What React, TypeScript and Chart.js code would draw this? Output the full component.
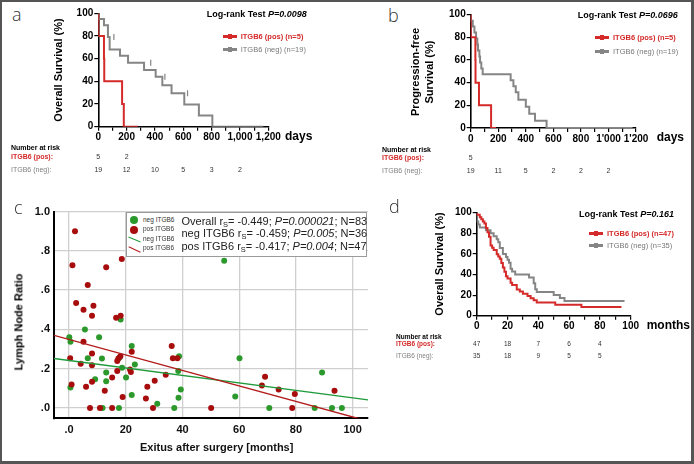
import React, { useEffect, useRef } from 'react';
import { Chart, registerables } from 'chart.js';
Chart.register(...registerables);

const FONT = '"Liberation Sans", Arial, Helvetica, sans-serif';
const LIGHT = '"Open Sans", "DejaVu Sans", sans-serif';
const RED_KM = '#d42a2a';
const GRAY_KM = '#858585';
const RED_PT = '#a80d0d';
const GREEN_PT = '#2b992b';
const RED_FIT = '#b21c1c';
const GREEN_FIT = '#1f9a3a';

// ---------- Panel a: overall survival (days) ----------
const aPosT = [0, 40, 42, 168, 180, 278];
const aPosS = [100, 80, 60, 40, 20, 0];
const aNegT = [0, 40, 68, 80, 153, 210, 323, 405, 452, 517, 607, 710, 805, 1165];
const aNegS = [100, 95, 89.5, 79, 68, 62.5, 56.5, 50, 44, 36.5, 29.5, 19.5, 9.8, 0];
const aNegCensT = [110, 370, 470, 630];
const aNegCensS = [79, 56.5, 44, 29.5];
const aRiskT = [0, 200, 400, 600, 800, 1000];
const aRiskPos = [5, 2];
const aRiskNeg = [19, 12, 10, 5, 3, 2];

// ---------- Panel b: progression-free survival (days) ----------
const bPosT = [0, 34, 35, 60, 148, 184];
const bPosS = [100, 80, 60, 40, 20, 0];
const bNegT = [0, 15, 27, 39, 48, 53, 63, 68, 77, 87, 290, 310, 327, 346, 400, 425, 467, 551, 1175];
const bNegS = [100, 94.7, 89.5, 84.2, 78.9, 73.7, 68.4, 63.2, 57.9, 52.6, 47.4, 42.1, 36.8, 31.6, 25, 18.8, 12.5, 6.3, 0];
const bRiskT = [0, 200, 400, 600, 800, 1000];
const bRiskPos = [5];
const bRiskNeg = [19, 11, 5, 2, 2, 2];

// ---------- Panel c: lymph node ratio vs exitus ----------
const cNegX = [54.7, 18.2, 5.6, 0.1, 10.6, 0.5, 22.1, 17.8, 11.6, 6.6, 38.8, 23.2, 18.7, 13.1, 38.5, 20.1, 13.1, 9.2, 39.4, 22.1, 38.6, 58.6, 31.1, 60.1, 0.5, 17.6, 37.1, 70.6, 86.6, 92.7, 96.2, 89.2, 11.8];
const cNegY = [0.75, 0.45, 0.40, 0.36, 0.36, 0.337, 0.316, 0.257, 0.252, 0.254, 0.264, 0.222, 0.205, 0.181, 0.188, 0.156, 0.137, 0.147, 0.095, 0.066, 0.052, 0.059, 0.022, 0.254, 0.105, 0, 0, 0, 0, 0, 0, 0.181, 0];
const cPosX = [2.1, 1.2, 13.1, 18.6, 6.6, 2.5, 5.1, 8.6, 8.1, 16.6, 18.2, 5.1, 36.2, 22.1, 8.1, 18.1, 17.4, 17.0, 36.6, 38.2, 21.5, 21.8, 17.0, 15.2, 34.1, 69.1, 30.2, 27.6, 12.6, 18.9, 27.1, 68.0, 73.9, 0.4, 4.1, 8.1, 6.0, 8.1, 0.9, 7.4, 10.9, 15.2, 29.6, 50.1, 78.7, 79.6, 93.6];
const cPosY = [0.90, 0.726, 0.717, 0.758, 0.626, 0.535, 0.50, 0.52, 0.47, 0.46, 0.47, 0.337, 0.316, 0.286, 0.278, 0.264, 0.252, 0.24, 0.254, 0.254, 0.196, 0.183, 0.188, 0.156, 0.169, 0.159, 0.139, 0.108, 0.088, 0.056, 0.049, 0.115, 0.095, 0.254, 0.225, 0.218, 0.108, 0.134, 0.12, 0, 0, 0, 0, 0, 0, 0.071, 0.088];
const cFitNeg = [0.242, -0.0019]; // intercept, slope
const cFitPos = [0.349, -0.00394];
const cXRange = [-5.3, 105.4];
const cYRange = [-0.052, 1.0];

// ---------- Panel d: overall survival (months) ----------
const dPosT = [0, 2, 3, 4, 5, 6, 7, 8, 9, 10, 11, 13, 14, 15, 16, 17, 18, 19, 20, 22, 23, 26, 28, 30, 33, 35, 37, 39, 51, 68, 75, 94];
const dPosS = [100, 97.9, 95.7, 93.6, 91.5, 89.4, 85.1, 80.9, 76.6, 68.1, 66, 63.8, 59.6, 57.4, 55.3, 51.1, 46.8, 42.6, 38.3, 36.2, 31.9, 29.8, 25.5, 23.4, 21.3, 19.1, 17, 14.9, 12.8, 10.6, 8.5, 8.5];
const dNegT = [0, 1, 2, 6, 9, 11, 13, 14, 15, 17, 19, 20, 21, 22, 23, 25, 34, 37, 38, 39, 50, 54, 57, 60, 96];
const dNegS = [100, 91.4, 88.6, 85.7, 82.9, 80, 77.1, 74.3, 71.4, 65.7, 60, 57.1, 54.3, 51.4, 45.7, 42.9, 40, 37.1, 31.4, 25.7, 22.9, 20, 17.1, 14.3, 14.3];
const dRiskT = [0, 20, 40, 60, 80];
const dRiskPos = [47, 18, 7, 6, 4];
const dRiskNeg = [35, 18, 9, 5, 5];

type Rect = { left: number; top: number; width: number; height: number };
type Area = { left: number; top: number; right: number; bottom: number };

function pad(r: Rect, a: Area, yW: number, xH: number) {
  return {
    left: a.left - r.left - yW,
    top: a.top - r.top,
    right: r.left + r.width - a.right,
    bottom: r.top + r.height - a.bottom - xH,
  };
}

function ChartCanvas({ rect, build }: { rect: Rect; build: () => any }) {
  const ref = useRef<HTMLCanvasElement>(null);
  useEffect(() => {
    const c = new Chart(ref.current as HTMLCanvasElement, build());
    return () => c.destroy();
  }, []);
  return (
    <canvas
      ref={ref}
      width={rect.width}
      height={rect.height}
      style={{ position: 'absolute', left: rect.left, top: rect.top, width: rect.width, height: rect.height }}
    />
  );
}

function kmBuild(
  rect: Rect,
  area: Area,
  xMax: number,
  xStep: number,
  xLabelStep: number,
  fmt: (v: number) => string,
  curves: { t: number[]; s: number[]; color: string }[],
  censors: { t: number[]; s: number[]; color: string }[]
) {
  const yW = 30;
  const xH = 20;
  const tickFont = { family: FONT, size: 10, weight: 'bold' as const };
  return () => ({
    type: 'scatter',
    data: {
      datasets: [
        ...curves.map((c) => ({
          data: c.t.map((t, i) => ({ x: t, y: c.s[i] })),
          showLine: true,
          stepped: 'after',
          borderColor: c.color,
          backgroundColor: c.color,
          borderWidth: 2,
          pointRadius: 0,
          fill: false,
        })),
        ...censors.map((c) => ({
          data: c.t.map((t, i) => ({ x: t, y: c.s[i] })),
          showLine: false,
          pointStyle: 'line',
          rotation: 90,
          pointRadius: 3,
          borderColor: c.color,
          backgroundColor: c.color,
          borderWidth: 1.2,
        })),
      ],
    },
    options: {
      responsive: false,
      animation: false,
      events: [],
      layout: { padding: pad(rect, area, yW, xH) },
      plugins: { legend: { display: false }, tooltip: { enabled: false } },
      scales: {
        x: {
          type: 'linear',
          min: 0,
          max: xMax,
          afterFit: (s: any) => {
            s.height = xH;
          },
          ticks: {
            stepSize: xStep,
            autoSkip: false,
            maxRotation: 0,
            padding: 1,
            color: '#000',
            font: tickFont,
            callback: (v: any) => (Math.round(v) % xLabelStep === 0 ? fmt(Math.round(v)) : ''),
          },
          grid: { drawOnChartArea: false, drawTicks: true, tickLength: 4, color: '#000', lineWidth: 1.2 },
          border: { display: true, color: '#000', width: 1.6 },
        },
        y: {
          type: 'linear',
          min: 0,
          max: 100,
          afterFit: (s: any) => {
            s.width = yW;
          },
          ticks: { stepSize: 20, padding: 1, color: '#000', font: tickFont },
          grid: { drawOnChartArea: false, drawTicks: true, tickLength: 4, color: '#000', lineWidth: 1.2 },
          border: { display: true, color: '#000', width: 1.6 },
        },
      },
    },
  });
}

function scatterBuild(rect: Rect, area: Area) {
  const yW = 30;
  const xH = 22;
  const tickFont = { family: FONT, size: 11, weight: 'bold' as const };
  const fitLine = (f: number[]) => [
    { x: cXRange[0], y: f[0] + f[1] * cXRange[0] },
    { x: cXRange[1], y: f[0] + f[1] * cXRange[1] },
  ];
  return () => ({
    type: 'scatter',
    data: {
      datasets: [
        { data: fitLine(cFitPos), showLine: true, borderColor: RED_FIT, borderWidth: 1.4, pointRadius: 0 },
        { data: fitLine(cFitNeg), showLine: true, borderColor: GREEN_FIT, borderWidth: 1.4, pointRadius: 0 },
        {
          data: cPosX.map((x, i) => ({ x, y: cPosY[i] })),
          pointRadius: 3,
          backgroundColor: RED_PT,
          borderColor: RED_PT,
          borderWidth: 0,
        },
        {
          data: cNegX.map((x, i) => ({ x, y: cNegY[i] })),
          pointRadius: 3,
          backgroundColor: GREEN_PT,
          borderColor: GREEN_PT,
          borderWidth: 0,
        },
      ],
    },
    options: {
      responsive: false,
      animation: false,
      events: [],
      layout: { padding: pad(rect, area, yW, xH) },
      plugins: { legend: { display: false }, tooltip: { enabled: false } },
      scales: {
        x: {
          type: 'linear',
          min: cXRange[0],
          max: cXRange[1],
          afterFit: (s: any) => {
            s.height = xH;
          },
          ticks: {
            stepSize: 20,
            includeBounds: false,
            autoSkip: false,
            maxRotation: 0,
            padding: 5,
            color: '#111',
            font: tickFont,
            callback: (v: any) => (Math.abs(v) < 1e-9 ? '.0' : String(Math.round(v))),
          },
          grid: { drawTicks: false, color: '#cfcfcf', lineWidth: 1.3 },
          border: { display: true, color: '#000', width: 2 },
        },
        y: {
          type: 'linear',
          min: cYRange[0],
          max: cYRange[1],
          afterFit: (s: any) => {
            s.width = yW;
          },
          ticks: {
            stepSize: 0.2,
            includeBounds: false,
            padding: 4,
            color: '#111',
            font: tickFont,
            callback: (v: any) => (Math.abs(v - 1) < 1e-9 ? '1.0' : Number(v).toFixed(1).replace(/^0/, '')),
          },
          grid: { drawTicks: false, color: '#cfcfcf', lineWidth: 1.3 },
          border: { display: true, color: '#000', width: 2 },
        },
      },
    },
  });
}

type TP = {
  x: number;
  y: number;
  size: number;
  color?: string;
  bold?: boolean;
  align?: 'left' | 'center';
  family?: string;
  weight?: number | string;
  children: React.ReactNode;
};
const Txt = ({ x, y, size, color = '#000', bold = false, align = 'left', family = FONT, weight, children }: TP) => (
  <div
    style={{
      position: 'absolute',
      left: x,
      top: y - size * 0.6,
      fontSize: size,
      lineHeight: `${size * 1.2}px`,
      color,
      fontWeight: (weight ?? (bold ? 'bold' : 'normal')) as any,
      fontFamily: family,
      whiteSpace: 'nowrap',
      transform: align === 'center' ? 'translateX(-50%)' : undefined,
    }}
  >
    {children}
  </div>
);

const RotTxt = ({ x, y, size, children, lh }: { x: number; y: number; size: number; lh?: number; children: React.ReactNode }) => (
  <div
    style={{
      position: 'absolute',
      left: x,
      top: y,
      transform: 'translate(-50%,-50%) rotate(-90deg)',
      fontSize: size,
      lineHeight: `${lh ?? size * 1.2}px`,
      fontWeight: 'bold',
      fontFamily: FONT,
      whiteSpace: 'nowrap',
      textAlign: 'center',
      color: '#000',
    }}
  >
    {children}
  </div>
);

const KmKey = ({ x, y, color }: { x: number; y: number; color: string }) => (
  <>
    <div style={{ position: 'absolute', left: x, top: y - 1.5, width: 14, height: 3, background: color }} />
    <div style={{ position: 'absolute', left: x + 5, top: y - 2.5, width: 4, height: 5, background: color }} />
  </>
);

function KmLegend({ x, y, dy, pos, neg }: { x: number; y: number; dy: number; pos: string; neg: string }) {
  return (
    <>
      <KmKey x={x} y={y} color={RED_KM} />
      <Txt x={x + 18} y={y} size={7.5} color={RED_KM} bold>
        {pos}
      </Txt>
      <KmKey x={x} y={y + dy} color={GRAY_KM} />
      <Txt x={x + 18} y={y + dy} size={7.5} color="#777">
        {neg}
      </Txt>
    </>
  );
}

function RiskTable(props: {
  x: number;
  yHead: number;
  yPos: number;
  yNeg: number;
  size: number;
  area: Area;
  xMax: number;
  times: number[];
  pos: number[];
  neg: number[];
}) {
  const { x, yHead, yPos, yNeg, size, area, xMax, times, pos, neg } = props;
  const px = (t: number) => area.left + (t / xMax) * (area.right - area.left);
  return (
    <>
      <Txt x={x} y={yHead} size={size} bold>
        Number at risk
      </Txt>
      <Txt x={x} y={yPos} size={size} bold color={RED_KM}>
        ITGB6 (pos):
      </Txt>
      <Txt x={x} y={yNeg} size={size} color="#808080">
        ITGB6 (neg):
      </Txt>
      {pos.map((n, i) => (
        <Txt key={'p' + i} x={px(times[i])} y={yPos} size={size} align="center" color="#333">
          {n}
        </Txt>
      ))}
      {neg.map((n, i) => (
        <Txt key={'n' + i} x={px(times[i])} y={yNeg} size={size} align="center" color="#333">
          {n}
        </Txt>
      ))}
    </>
  );
}

const PanelLetter = ({ x, y, ch }: { x: number; y: number; ch: string }) => (
  <Txt x={x} y={y} size={18} family={LIGHT} weight={300} color="#333">
    {ch}
  </Txt>
);

const rectA: Rect = { left: 40, top: 0, width: 250, height: 150 };
const areaA: Area = { left: 98.3, top: 13.3, right: 268.3, bottom: 126.7 };
const rectB: Rect = { left: 420, top: 0, width: 245, height: 152 };
const areaB: Area = { left: 470.7, top: 14.7, right: 636, bottom: 128 };
const rectC: Rect = { left: 14, top: 200, width: 370, height: 245 };
const areaC: Area = { left: 54, top: 211.5, right: 368, bottom: 418.3 };
const rectD: Rect = { left: 430, top: 200, width: 225, height: 140 };
const areaD: Area = { left: 476.7, top: 212.7, right: 630.7, bottom: 315.7 };

const buildA = kmBuild(rectA, areaA, 1200, 100, 200, (v) => v.toLocaleString('en-US'), [
  { t: aPosT, s: aPosS, color: RED_KM },
  { t: aNegT, s: aNegS, color: GRAY_KM },
], [{ t: aNegCensT, s: aNegCensS, color: GRAY_KM }]);
const buildB = kmBuild(rectB, areaB, 1200, 100, 200, (v) => (v >= 1000 ? `${Math.floor(v / 1000)}'${String(v % 1000).padStart(3, '0')}` : String(v)), [
  { t: bPosT, s: bPosS, color: RED_KM },
  { t: bNegT, s: bNegS, color: GRAY_KM },
], []);
const buildD = kmBuild(rectD, areaD, 100, 10, 20, (v) => String(v), [
  { t: dPosT, s: dPosS, color: RED_KM },
  { t: dNegT, s: dNegS, color: GRAY_KM },
], []);
const buildC = scatterBuild(rectC, areaC);

const Sub = ({ children }: { children: React.ReactNode }) => (
  <span style={{ fontSize: '0.68em', verticalAlign: '-0.25em' }}>{children}</span>
);

export default function App() {
  return (
    <div
      style={{
        position: 'absolute',
        left: 0,
        top: 0,
        width: 694,
        height: 464,
        background: '#fff',
        overflow: 'hidden',
        fontFamily: FONT,
      }}
    >
      <ChartCanvas rect={rectA} build={buildA} />
      <ChartCanvas rect={rectB} build={buildB} />
      <ChartCanvas rect={rectC} build={buildC} />
      <ChartCanvas rect={rectD} build={buildD} />

      {/* Panel a */}
      <PanelLetter x={12} y={15} ch="a" />
      <RotTxt x={59} y={70} size={11}>
        Overall Survival (%)
      </RotTxt>
      <Txt x={206.7} y={14} size={9} bold>
        Log-rank Test <i>P=0.0098</i>
      </Txt>
      <KmLegend x={222.7} y={36} dy={13} pos="ITGB6 (pos) (n=5)" neg="ITGB6 (neg) (n=19)" />
      <Txt x={285} y={136} size={12} bold>
        days
      </Txt>
      <RiskTable x={11} yHead={148} yPos={157} yNeg={170} size={7} area={areaA} xMax={1200} times={aRiskT} pos={aRiskPos} neg={aRiskNeg} />

      {/* Panel b */}
      <PanelLetter x={388} y={16} ch="b" />
      <RotTxt x={422} y={72} size={11} lh={14}>
        Progression-free
        <br />
        Survival (%)
      </RotTxt>
      <Txt x={577.7} y={15} size={9} bold>
        Log-rank Test <i>P=0.0696</i>
      </Txt>
      <KmLegend x={595} y={37} dy={14} pos="ITGB6 (pos) (n=5)" neg="ITGB6 (neg) (n=19)" />
      <Txt x={656.7} y={137} size={12} bold>
        days
      </Txt>
      <RiskTable x={382} yHead={150} yPos={158.5} yNeg={171} size={7} area={areaB} xMax={1200} times={bRiskT} pos={bRiskPos} neg={bRiskNeg} />

      {/* Panel c */}
      <PanelLetter x={14} y={208} ch="c" />
      <RotTxt x={18.5} y={322} size={11}>
        Lymph Node Ratio
      </RotTxt>
      <Txt x={216.7} y={447.5} size={11} bold align="center" color="#111">
        Exitus after surgery [months]
      </Txt>
      <div
        style={{
          position: 'absolute',
          left: 125.7,
          top: 211.7,
          width: 241,
          height: 45,
          boxSizing: 'border-box',
          border: '1px solid #9a9a9a',
          background: '#fff',
        }}
      />
      <div style={{ position: 'absolute', left: 129.5, top: 216.3, width: 8, height: 8, borderRadius: '50%', background: GREEN_PT }} />
      <div style={{ position: 'absolute', left: 129.5, top: 226, width: 8, height: 8, borderRadius: '50%', background: RED_PT }} />
      <div style={{ position: 'absolute', left: 128, top: 239, width: 13, height: 1.2, background: GREEN_FIT, transform: 'rotate(22deg)' }} />
      <div style={{ position: 'absolute', left: 128, top: 248.5, width: 13, height: 1.2, background: RED_FIT, transform: 'rotate(25deg)' }} />
      <Txt x={143} y={220} size={6.5} color="#333">neg ITGB6</Txt>
      <Txt x={143} y={229.3} size={6.5} color="#333">pos ITGB6</Txt>
      <Txt x={143} y={238.8} size={6.5} color="#333">neg ITGB6</Txt>
      <Txt x={143} y={248.3} size={6.5} color="#333">pos ITGB6</Txt>
      <Txt x={181.5} y={221.5} size={11} color="#222">
        Overall r<Sub>S</Sub>= -0.449; <i>P=0.000021</i>; N=83
      </Txt>
      <Txt x={181.5} y={234} size={11} color="#222">
        neg ITGB6 r<Sub>S</Sub>= -0.459; <i>P=0.005</i>; N=36
      </Txt>
      <Txt x={181.5} y={246.5} size={11} color="#222">
        pos ITGB6 r<Sub>S</Sub>= -0.417; <i>P=0.004</i>; N=47
      </Txt>

      {/* Panel d */}
      <PanelLetter x={389} y={207} ch="d" />
      <RotTxt x={440} y={264} size={11}>
        Overall Survival (%)
      </RotTxt>
      <Txt x={579} y={214} size={9} bold>
        Log-rank Test <i>P=0.161</i>
      </Txt>
      <KmLegend x={589} y={233.3} dy={12} pos="ITGB6 (pos) (n=47)" neg="ITGB6 (neg) (n=35)" />
      <Txt x={646.7} y={325} size={12} bold>
        months
      </Txt>
      <RiskTable x={396} yHead={336.7} yPos={343.5} yNeg={356} size={6.5} area={areaD} xMax={100} times={dRiskT} pos={dRiskPos} neg={dRiskNeg} />

      <div
        style={{
          position: 'absolute',
          left: 0,
          top: 0,
          width: 694,
          height: 464,
          boxSizing: 'border-box',
          borderTop: '2px solid #555',
          borderLeft: '2px solid #555',
          borderRight: '3px solid #555',
          borderBottom: '3px solid #555',
          pointerEvents: 'none',
        }}
      />
    </div>
  );
}
